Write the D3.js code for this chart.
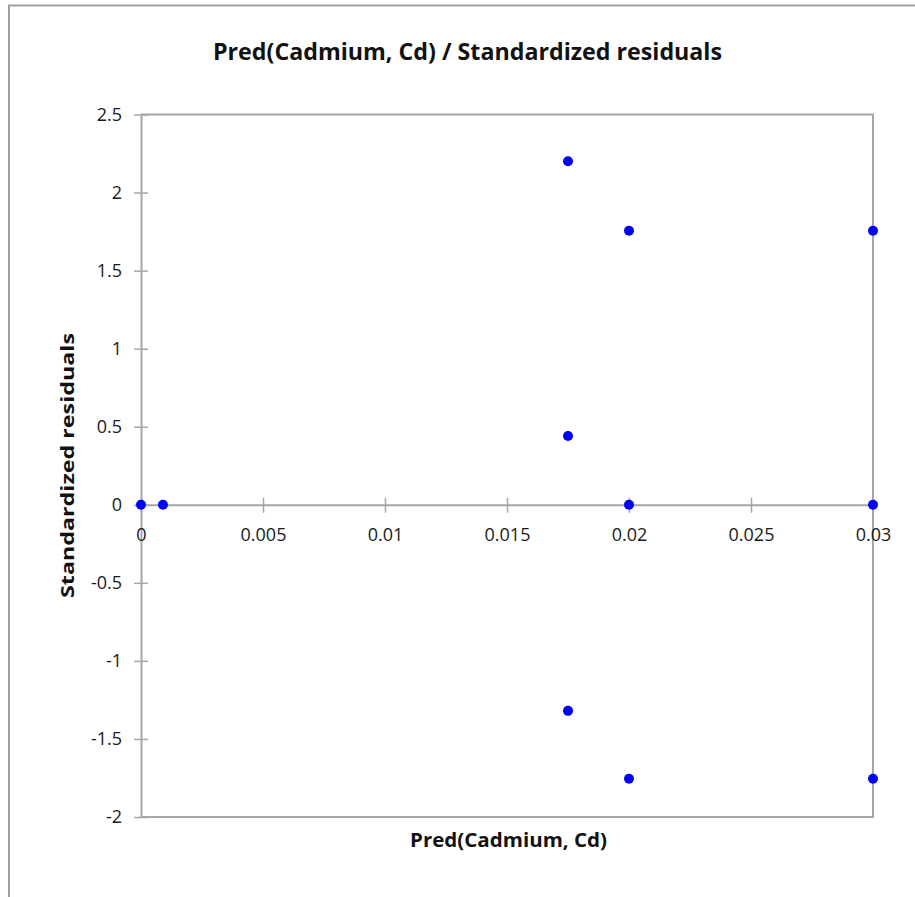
<!DOCTYPE html>
<html>
<head>
<meta charset="utf-8">
<script src="https://cdn.jsdelivr.net/npm/d3@7"></script>
<style>
  html, body { margin: 0; padding: 0; background: #fff; }
  svg { display: block; }
</style>
</head>
<body>
<svg id="chart" width="915" height="897"></svg>
<script>
// Predicted cadmium values and their standardized residuals
const predCd = [0, 0.0009, 0.0175, 0.0175, 0.0175, 0.02, 0.02, 0.02, 0.03, 0.03, 0.03];
const stdResiduals = [0, 0, 2.2, 0.44, -1.32, 1.755, 0, -1.755, 1.755, 0, -1.755];

const xTicks = [0, 0.005, 0.01, 0.015, 0.02, 0.025, 0.03];
const yTicks = [-2, -1.5, -1, -0.5, 0, 0.5, 1, 1.5, 2, 2.5];

const titleText = "Pred(Cadmium, Cd) / Standardized residuals";
const xTitle = "Pred(Cadmium, Cd)";
const yTitle = "Standardized residuals";

const svg = d3.select("#chart");
const W = 915, H = 897;
const plot = { left: 141, right: 873, top: 114.5, bottom: 817 };
const axisColor = "#a6a6a6";
const tickFont = "'Liberation Sans Narrow', 'Open Sans', sans-serif";

// outer chart border (top and left edges visible)
svg.append("path")
  .attr("d", `M9,${H} V5.5 H${W}`)
  .attr("fill", "none")
  .attr("stroke", "#a0a0a0")
  .attr("stroke-width", 2);

const x = d3.scaleLinear().domain([0, 0.03]).range([plot.left, plot.right]);
const y = d3.scaleLinear().domain([-2, 2.5]).range([plot.bottom, plot.top]);

// plot area frame: top, right and bottom edges
svg.append("path")
  .attr("d", `M${plot.left},${plot.top} H${plot.right} V${plot.bottom} H${plot.left}`)
  .attr("fill", "none")
  .attr("stroke", axisColor)
  .attr("stroke-width", 2);

// vertical axis
const yAxis = svg.append("g")
  .attr("transform", `translate(${plot.left},0)`)
  .call(d3.axisLeft(y).tickValues(yTicks).tickSize(6).tickSizeOuter(0)
    .tickFormat(d => String(d)));
yAxis.select(".domain").attr("stroke", axisColor).attr("stroke-width", 2);
yAxis.selectAll(".tick line").attr("stroke", axisColor).attr("stroke-width", 1.5)
  .attr("x1", 7).attr("x2", -7);
yAxis.selectAll(".tick text")
  .attr("x", -19)
  .style("font-family", tickFont).style("font-size", "18px").style("fill", "#1a1a1a");

// horizontal axis drawn through y = 0
const xAxis = svg.append("g")
  .attr("transform", `translate(0,${y(0)})`)
  .call(d3.axisBottom(x).tickValues(xTicks).tickSize(6).tickSizeOuter(0)
    .tickFormat(d => String(+d.toFixed(3))));
xAxis.select(".domain").attr("stroke", axisColor).attr("stroke-width", 2);
xAxis.selectAll(".tick line").attr("stroke", axisColor).attr("stroke-width", 1.5)
  .attr("y1", -7).attr("y2", 8);
xAxis.selectAll(".tick text")
  .attr("y", 23)
  .style("font-family", tickFont).style("font-size", "18px").style("fill", "#1a1a1a");

// residual points
svg.append("g").selectAll("circle")
  .data(predCd.map((p, i) => ({ p, r: stdResiduals[i] })))
  .join("circle")
  .attr("cx", d => x(d.p))
  .attr("cy", d => y(d.r))
  .attr("r", 5)
  .attr("fill", "#0000ff");

// titles
svg.append("text")
  .attr("x", 467.5).attr("y", 60)
  .attr("text-anchor", "middle")
  .style("font-family", "'Liberation Sans Narrow', 'Open Sans', sans-serif")
  .style("font-weight", "bold").style("font-size", "24px")
  .attr("textLength", 509).attr("lengthAdjust", "spacingAndGlyphs")
  .style("fill", "#111")
  .text(titleText);

svg.append("text")
  .attr("x", 508.5).attr("y", 847)
  .attr("text-anchor", "middle")
  .style("font-family", "'Liberation Sans Narrow', 'Open Sans', sans-serif")
  .style("font-weight", "bold").style("font-size", "20px")
  .attr("textLength", 197).attr("lengthAdjust", "spacingAndGlyphs")
  .style("fill", "#111")
  .text(xTitle);

svg.append("text")
  .attr("transform", `translate(74,465.5) rotate(-90)`)
  .attr("text-anchor", "middle")
  .style("font-family", "'Open Sans', sans-serif")
  .style("font-weight", "bold").style("font-size", "18px")
  .attr("textLength", 265).attr("lengthAdjust", "spacingAndGlyphs")
  .style("fill", "#111")
  .text(yTitle);
</script>
</body>
</html>
